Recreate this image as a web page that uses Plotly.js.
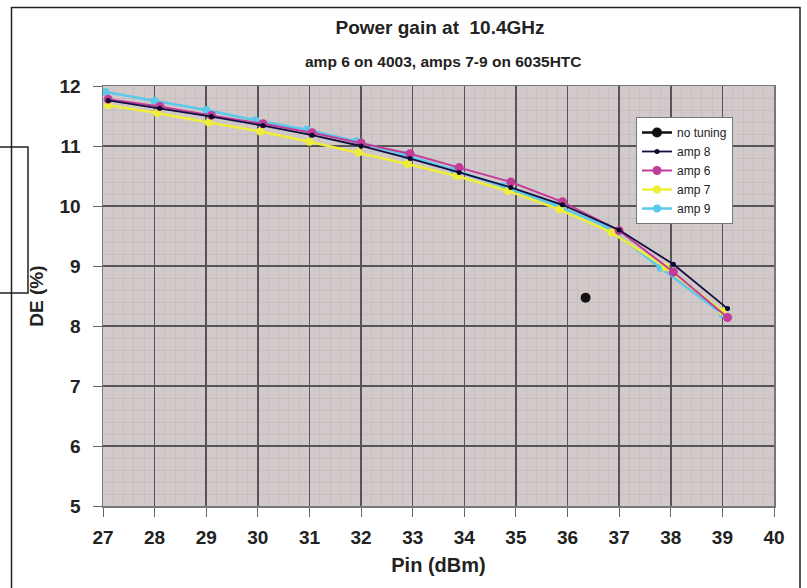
<!DOCTYPE html>
<html>
<head>
<meta charset="utf-8">
<script src="https://cdn.plot.ly/plotly-3.0.1.min.js"></script>
<style>
html,body{margin:0;padding:0;background:#fff;}
#chart{width:807px;height:588px;}
</style>
</head>
<body>
<div id="chart"></div>
<script>
// Data
const noTuningX = [36.35];
const noTuningY = [8.47];

const amp8X = [27.1, 28.1, 29.1, 30.1, 31.05, 32.0, 32.95, 33.9, 34.9, 35.9, 37.0, 38.05, 39.1];
const amp8Y = [11.76, 11.63, 11.49, 11.34, 11.18, 11.0, 10.79, 10.56, 10.31, 10.02, 9.6, 9.03, 8.29];

const amp6X = [27.1, 28.1, 29.1, 30.1, 31.05, 32.0, 32.95, 33.9, 34.9, 35.9, 37.0, 38.05, 39.1];
const amp6Y = [11.78, 11.66, 11.51, 11.37, 11.22, 11.05, 10.87, 10.64, 10.40, 10.07, 9.59, 8.90, 8.14];

const amp7X = [27.1, 28.05, 29.05, 30.05, 31.0, 31.95, 32.9, 33.85, 34.85, 35.85, 36.85, 37.9, 39.0];
const amp7Y = [11.68, 11.55, 11.39, 11.24, 11.07, 10.89, 10.70, 10.50, 10.25, 9.94, 9.56, 8.98, 8.24];

const amp9X = [27.05, 28.0, 29.0, 29.95, 30.95, 31.9, 32.85, 33.8, 34.75, 35.75, 36.75, 37.8, 39.0];
const amp9Y = [11.90, 11.75, 11.60, 11.43, 11.27, 11.08, 10.85, 10.60, 10.33, 10.02, 9.66, 8.97, 8.20];

const xTicks = [27, 28, 29, 30, 31, 32, 33, 34, 35, 36, 37, 38, 39, 40];
const yTicks = [5, 6, 7, 8, 9, 10, 11, 12];

const FONT = '"Liberation Sans", Arial, sans-serif';

const traces = [
  {name: 'amp 9', x: amp9X, y: amp9Y, mode: 'lines+markers', legendrank: 5,
   line: {color: '#5cc8ea', width: 2.5}, marker: {color: '#5cc8ea', size: 8}},
  {name: 'amp 7', x: amp7X, y: amp7Y, mode: 'lines+markers', legendrank: 4,
   line: {color: '#eeee3a', width: 2.5}, marker: {color: '#eeee3a', size: 8}},
  {name: 'amp 6', x: amp6X, y: amp6Y, mode: 'lines+markers', legendrank: 3,
   line: {color: '#c43c9a', width: 2}, marker: {color: '#c43c9a', size: 9}},
  {name: 'amp 8', x: amp8X, y: amp8Y, mode: 'lines+markers', legendrank: 2,
   line: {color: '#101040', width: 1.8}, marker: {color: '#080830', size: 5}},
  {name: 'no tuning', x: noTuningX, y: noTuningY, mode: 'lines+markers', legendrank: 1,
   line: {color: '#111111', width: 2.5}, marker: {color: '#111111', size: 10}}
];

function px2x(p){ return (p - 103) / 671; }
function px2y(p){ return (506 - p) / 420; }

const layout = {
  width: 807, height: 588,
  margin: {l: 103, r: 33, t: 86, b: 82},
  paper_bgcolor: '#ffffff',
  plot_bgcolor: '#d2caca',
  font: {family: FONT, color: '#222222'},
  showlegend: true,
  title: {
    text: 'Power gain at  10.4GHz',
    font: {family: FONT, size: 19, weight: 'bold', color: '#222222'},
    x: 440 / 807, xanchor: 'center', xref: 'container',
    y: 1 - 27 / 588, yanchor: 'middle', yref: 'container'
  },
  annotations: [{
    text: 'amp 6 on 4003, amps 7-9 on 6035HTC',
    xref: 'paper', yref: 'paper', x: px2x(443), y: px2y(61),
    xanchor: 'center', yanchor: 'middle', showarrow: false,
    font: {family: FONT, size: 15.5, weight: 'bold', color: '#222222'}
  }],
  xaxis: {
    range: [27, 40], tickvals: xTicks, ticktext: xTicks.map(String),
    showgrid: true, gridcolor: '#555555', gridwidth: 1.5,
    minor: {dtick: 0.2, showgrid: true, gridcolor: '#c8bebe', gridwidth: 1},
    ticks: 'outside', ticklen: 9, tickcolor: '#666666',
    ticklabelstandoff: 5,
    showline: true, linecolor: '#777777', linewidth: 1.5, mirror: true,
    zeroline: false,
    tickfont: {family: FONT, size: 19, weight: 'bold', color: '#222222'},
    title: {text: 'Pin (dBm)', standoff: 10,
            font: {family: FONT, size: 20, weight: 'bold', color: '#222222'}}
  },
  yaxis: {
    range: [5, 12], tickvals: yTicks, ticktext: yTicks.map(String),
    showgrid: true, gridcolor: '#555555', gridwidth: 1.5,
    minor: {dtick: 0.2, showgrid: true, gridcolor: '#c8bebe', gridwidth: 1},
    ticks: 'outside', ticklen: 9, tickcolor: '#666666',
    ticklabelstandoff: 8,
    showline: true, linecolor: '#777777', linewidth: 1.5, mirror: true,
    zeroline: false,
    tickfont: {family: FONT, size: 19, weight: 'bold', color: '#222222'},
    title: {text: 'DE (%)', standoff: 11,
            font: {family: FONT, size: 19, weight: 'bold', color: '#222222'}}
  },
  legend: {
    x: px2x(636), y: px2y(117), xanchor: 'left', yanchor: 'top',
    bgcolor: '#ffffff', bordercolor: '#777777', borderwidth: 1,
    font: {family: FONT, size: 12, color: '#222222'},
    tracegroupgap: 0, itemwidth: 30
  },
  shapes: [
    // outer frame of the figure
    {type: 'rect', xref: 'paper', yref: 'paper',
     x0: px2x(11.5), x1: px2x(800), y0: px2y(620), y1: px2y(7.5),
     line: {color: '#222222', width: 1.5}, fillcolor: 'rgba(0,0,0,0)', layer: 'above'},
    // partial frame at the far left edge
    {type: 'rect', xref: 'paper', yref: 'paper',
     x0: px2x(-5), x1: px2x(28), y0: px2y(293), y1: px2y(147),
     line: {color: '#222222', width: 1.5}, fillcolor: 'rgba(0,0,0,0)', layer: 'above'}
  ]
};

Plotly.newPlot('chart', traces, layout, {displayModeBar: false, staticPlot: true});
</script>
</body>
</html>
